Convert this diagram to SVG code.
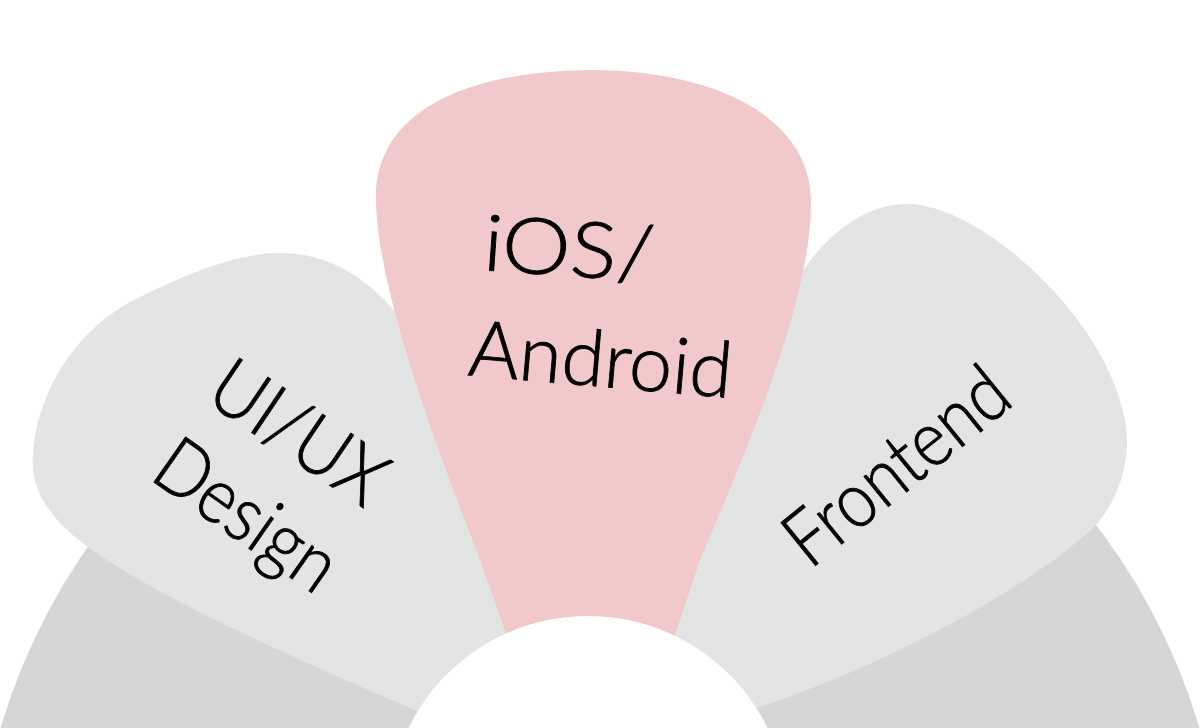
<svg xmlns="http://www.w3.org/2000/svg" width="1200" height="728" viewBox="0 0 1200 728">
  <style>
    .base { fill: #D7D5D6; }
    .petal { fill: #E3E5E4; }
    .petal-hl { fill: #F1C9CB; }
    .hole { fill: #FFFFFF; }
    .label { font-family: "Lato", "Open Sans", "Liberation Sans", sans-serif; font-weight: 300; font-size: 78px; fill: #000000; stroke: #000000; stroke-width: 0.9px; }
  </style>
  <rect width="1200" height="728" fill="#FFFFFF"/>
  <g id="base">
    <circle class="base" cx="600" cy="905" r="625"/>
  </g>
  <g id="node-uiux">
    <path class="petal" d="M 600,760 L 417,711 C 300,660 160,600 85,545 C 45,515 30,485 33,455 C 36,400 70,330 140,297 C 190,272 240,253 280,253 C 340,253 380,290 410,330 L 600,700 Z"/>
    <text class="label" transform="translate(203,400) rotate(34)" textLength="195" lengthAdjust="spacingAndGlyphs">UI/UX</text>
    <text class="label" transform="translate(148,478) rotate(35)" textLength="205" lengthAdjust="spacingAndGlyphs">Design</text>
  </g>
  <g id="node-frontend">
    <path class="petal" d="M 600,760 L 600,700 L 790,290 C 820,240 860,204 907,204 C 960,204 1030,260 1070,310 C 1110,360 1128,410 1127,445 C 1126,480 1110,510 1095,526 C 1040,580 900,660 757,708 Z"/>
    <text class="label" transform="translate(810,570) rotate(-39)" textLength="265" lengthAdjust="spacingAndGlyphs">Frontend</text>
  </g>
  <g id="node-mobile">
    <path class="petal-hl" d="M 512,650 L 480,560 C 430,430 375,280 376,195 C 377,120 450,72 590,70 C 720,70 810,120 811,200 C 812,290 760,420 700,560 L 670,650 Z"/>
    <text class="label" transform="translate(482,270) rotate(4)" textLength="171" lengthAdjust="spacingAndGlyphs">iOS/</text>
    <text class="label" transform="translate(467,375) rotate(5)" textLength="264" lengthAdjust="spacingAndGlyphs">Android</text>
  </g>
  <g id="center">
    <circle class="hole" cx="588" cy="816" r="200"/>
  </g>
</svg>
